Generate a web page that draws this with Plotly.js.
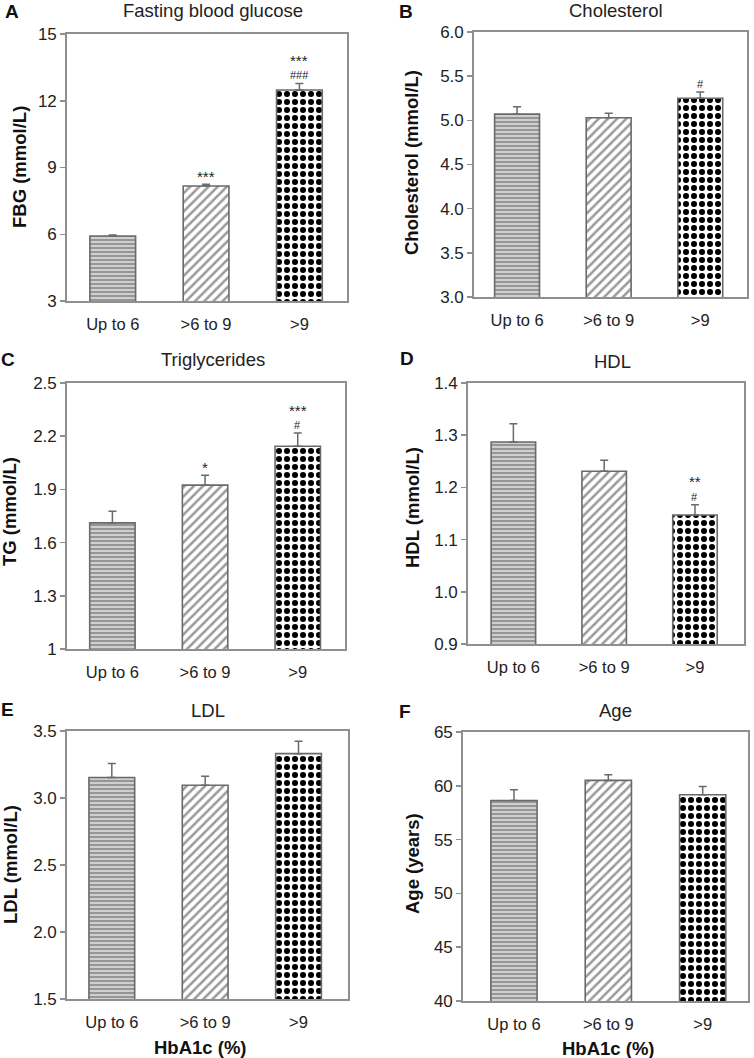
<!DOCTYPE html>
<html>
<head>
<meta charset="utf-8">
<script src="https://cdn.plot.ly/plotly-3.0.1.min.js"></script>
<style>html,body{margin:0;padding:0;background:#fff}#chart{width:754px;height:1058px}</style>
</head>
<body>
<div id="chart"></div>
<script>
// ---- data ----
const categories = ['Up to 6', '>6 to 9', '>9'];

const fbg = [5.92, 8.17, 12.48];
const fbgErr = [0.05, 0.08, 0.30];
const fbgStar = ['', '***', '***'];
const fbgHash = ['', '', '###'];

const chol = [5.07, 5.03, 5.25];
const cholErr = [0.085, 0.05, 0.07];
const cholStar = ['', '', ''];
const cholHash = ['', '', '#'];

const tg = [1.711, 1.924, 2.143];
const tgErr = [0.066, 0.056, 0.075];
const tgStar = ['', '*', '***'];
const tgHash = ['', '', '#'];

const hdl = [1.287, 1.231, 1.147];
const hdlErr = [0.035, 0.021, 0.020];
const hdlStar = ['', '', '**'];
const hdlHash = ['', '', '#'];

const ldl = [3.153, 3.095, 3.331];
const ldlErr = [0.104, 0.067, 0.092];
const ldlStar = ['', '', ''];
const ldlHash = ['', '', ''];

const age = [58.64, 60.5, 59.17];
const ageErr = [0.99, 0.53, 0.77];
const ageStar = ['', '', ''];
const ageHash = ['', '', ''];

const fbgTicks = [3, 6, 9, 12, 15];
const cholTicks = [3.0, 3.5, 4.0, 4.5, 5.0, 5.5, 6.0];
const tgTicks = [1, 1.3, 1.6, 1.9, 2.2, 2.5];
const hdlTicks = [0.9, 1.0, 1.1, 1.2, 1.3, 1.4];
const ldlTicks = [1.5, 2.0, 2.5, 3.0, 3.5];
const ageTicks = [40, 45, 50, 55, 60, 65];

// ---- layout helpers ----
const W = 754, H = 1058;
const px = v => v / W;
const py = v => 1 - v / H;

const panels = [
  {letter:'A', title:'Fasting blood glucose', ytitle:'FBG (mmol/L)', vals:fbg, err:fbgErr, star:fbgStar, hash:fbgHash, ticks:fbgTicks, fmt:'', yr:[3,15],
   box:[67,347,34,301], xr:[-0.49,2.51], letterPos:[12,12], titlePos:[213,11], ytPos:[19,167], xtitle:false},
  {letter:'B', title:'Cholesterol', ytitle:'Cholesterol (mmol/L)', vals:chol, err:cholErr, star:cholStar, hash:cholHash, ticks:cholTicks, fmt:'.1f', yr:[3,6],
   box:[474,747,32,297], xr:[-0.47,2.51], letterPos:[406,12], titlePos:[616,11], ytPos:[411,163], xtitle:false},
  {letter:'C', title:'Triglycerides', ytitle:'TG (mmol/L)', vals:tg, err:tgErr, star:tgStar, hash:tgHash, ticks:tgTicks, fmt:'', yr:[1,2.5],
   box:[67,345,383,649], xr:[-0.49,2.51], letterPos:[8,359], titlePos:[213,360], ytPos:[10,512], xtitle:false},
  {letter:'D', title:'HDL', ytitle:'HDL (mmol/L)', vals:hdl, err:hdlErr, star:hdlStar, hash:hdlHash, ticks:hdlTicks, fmt:'.1f', yr:[0.9,1.4],
   box:[468,744,383,644], xr:[-0.5,2.54], letterPos:[407,358], titlePos:[612,361], ytPos:[413,508], xtitle:false},
  {letter:'E', title:'LDL', ytitle:'LDL (mmol/L)', vals:ldl, err:ldlErr, star:ldlStar, hash:ldlHash, ticks:ldlTicks, fmt:'.1f', yr:[1.5,3.5],
   box:[67,348,731,999], xr:[-0.48,2.53], letterPos:[7,709], titlePos:[208,710], ytPos:[10,865], xtitle:true, xtPos:[200,1047]},
  {letter:'F', title:'Age', ytitle:'Age (years)', vals:age, err:ageErr, star:ageStar, hash:ageHash, ticks:ageTicks, fmt:'', yr:[40,65],
   box:[463,748,732,1001], xr:[-0.54,2.48], letterPos:[405,711], titlePos:[615,710], ytPos:[412,864], xtitle:true, xtPos:[608,1048]}
];

// per-group bar styles (pattern fills)
const barStyles = [
  {bg:'#cfcfcf', fg:'#909090', shape:'-', size:4, solidity:0.45},
  {bg:'#ffffff', fg:'#9a9a9a', shape:'/', size:6.5, solidity:0.38},
  {bg:'#ffffff', fg:'#000000', shape:'.', size:8, solidity:0.45}
];

const FONT = 'Liberation Sans, Arial, sans-serif';
const traces = [];
const annotations = [];
const layout = {
  width: W, height: H,
  margin: {l:0, r:0, t:0, b:0},
  paper_bgcolor: '#fff', plot_bgcolor: '#fff',
  showlegend: false,
  barmode: 'overlay',
  font: {family: FONT, color: '#222'},
  annotations: annotations
};

panels.forEach((p, i) => {
  const n = i === 0 ? '' : String(i + 1);
  const xa = 'x' + n, ya = 'y' + n;
  categories.forEach((c, j) => {
    const s = barStyles[j];
    traces.push({
      type: 'bar',
      x: [c],
      y: [p.vals[j]],
      xaxis: xa, yaxis: ya,
      width: 0.49,
      marker: {
        color: s.bg,
        line: {color: '#6a6a6a', width: 1.6},
        pattern: {shape: s.shape, fgcolor: s.fg, bgcolor: s.bg, size: s.size, solidity: s.solidity}
      },
      error_y: {
        type: 'data', symmetric: false,
        array: [p.err[j]], arrayminus: [0],
        color: '#6a6a6a', thickness: 1.5, width: 4
      },
      hoverinfo: 'skip'
    });
  });
  const [l, r, t, b] = p.box;
  layout['xaxis' + n] = {
    domain: [px(l), px(r)],
    anchor: ya,
    type: 'category',
    categoryorder: 'array', categoryarray: categories,
    range: p.xr,
    showline: true, mirror: true, linecolor: '#8f8f8f', linewidth: 1.8,
    ticks: 'outside', ticklen: 7, tickcolor: 'rgba(0,0,0,0)',
    showgrid: false, zeroline: false,
    tickfont: {family: FONT, size: 16.5, color: '#222'},
    fixedrange: true
  };
  layout['yaxis' + n] = {
    domain: [py(b), py(t)],
    anchor: xa,
    range: p.yr,
    tickmode: 'array', tickvals: p.ticks,
    ticktext: p.ticks.map(v => p.fmt === '.1f' ? v.toFixed(1) : String(v)),
    showline: true, mirror: true, linecolor: '#8f8f8f', linewidth: 1.8,
    ticks: 'outside', ticklen: 5, tickcolor: '#8f8f8f', tickwidth: 1.5,
    showgrid: false, zeroline: false,
    tickfont: {family: FONT, size: 17, color: '#222'},
    fixedrange: true
  };
  annotations.push({xref:'paper', yref:'paper', x:px(p.letterPos[0]), y:py(p.letterPos[1]),
    xanchor:'center', yanchor:'middle', showarrow:false,
    text:'<b>' + p.letter + '</b>', font:{family:FONT, size:19, color:'#111'}});
  annotations.push({xref:'paper', yref:'paper', x:px(p.titlePos[0]), y:py(p.titlePos[1]),
    xanchor:'center', yanchor:'middle', showarrow:false,
    text:p.title, font:{family:FONT, size:18.5, color:'#222'}});
  annotations.push({xref:'paper', yref:'paper', x:px(p.ytPos[0]), y:py(p.ytPos[1]),
    xanchor:'center', yanchor:'middle', showarrow:false, textangle:-90,
    text:'<b>' + p.ytitle + '</b>', font:{family:FONT, size:18.5, color:'#111'}});
  if (p.xtitle) {
    annotations.push({xref:'paper', yref:'paper', x:px(p.xtPos[0]), y:py(p.xtPos[1]),
      xanchor:'center', yanchor:'middle', showarrow:false,
      text:'<b>HbA1c (%)</b>', font:{family:FONT, size:18.5, color:'#111'}});
  }
  categories.forEach((c, j) => {
    const top = p.vals[j] + p.err[j];
    const hasHash = p.hash[j] !== '';
    if (hasHash) {
      annotations.push({xref:xa, yref:ya, x:c, y:top, xanchor:'center', yanchor:'middle',
        yshift:8, showarrow:false, text:p.hash[j], font:{family:FONT, size:11, color:'#222'}});
    }
    if (p.star[j] !== '') {
      annotations.push({xref:xa, yref:ya, x:c, y:top, xanchor:'center', yanchor:'middle',
        yshift: hasHash ? 23 : 8, showarrow:false, text:p.star[j], font:{family:FONT, size:15, color:'#222'}});
    }
  });
});

Plotly.newPlot('chart', traces, layout, {staticPlot: true, displayModeBar: false});
</script>
</body>
</html>
